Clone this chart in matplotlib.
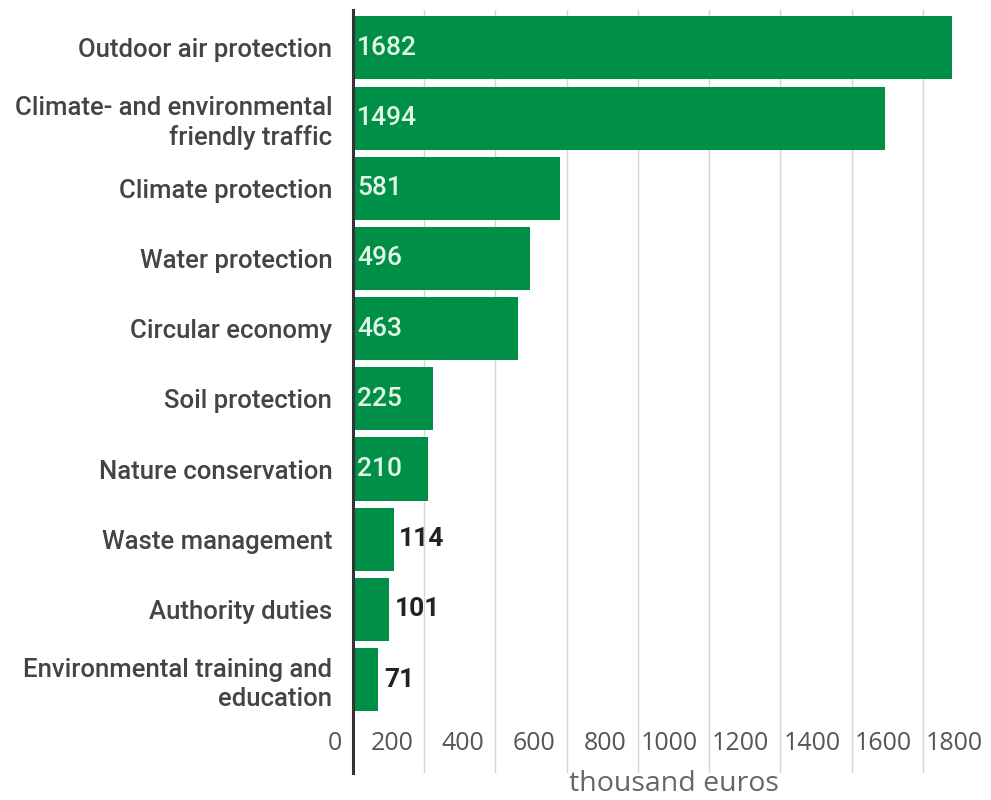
import matplotlib.pyplot as plt
import matplotlib.transforms as mtransforms

plt.rcParams['font.family'] = ['Roboto', 'DejaVu Sans']

categories = ['Outdoor air protection', 'Climate- and environmental\nfriendly traffic',
              'Climate protection', 'Water protection', 'Circular economy',
              'Soil protection', 'Nature conservation', 'Waste management',
              'Authority duties', 'Environmental training and\neducation']
values = [1682, 1494, 581, 496, 463, 225, 210, 114, 101, 71]
ticks = [0, 200, 400, 600, 800, 1000, 1200, 1400, 1600, 1800]

green = '#008f47'

fig = plt.figure(figsize=(9.91, 8), dpi=100)
ax = fig.add_axes([0.3562, 0.03375, 0.6468, 0.95375])

y = list(range(len(values)))
ax.barh(y, values, height=0.9, color=green, zorder=2)

ax.set_ylim(10.33, -0.54)
ax.set_xlim(0, 1800)
ax.set_yticks(y)
ax.set_yticklabels(categories, fontsize=18.5, color='#444444', fontweight='medium',
                   linespacing=1.27)
ax.set_xticks(ticks)
ax.set_xticklabels([str(t) for t in ticks], fontsize=18, color='#555555',
                   family=['Open Sans', 'DejaVu Sans'])
ax.tick_params(axis='y', length=0, pad=15)
ax.tick_params(axis='x', length=0, pad=-30)
off = mtransforms.ScaledTranslation(-0.11, 0, fig.dpi_scale_trans)
for lab in ax.get_xticklabels():
    lab.set_horizontalalignment('right')
    lab.set_transform(lab.get_transform() + off)

ax.grid(axis='x', color='#d4d4d4', linewidth=1, zorder=0)
ax.grid(axis='y', visible=False)
for s in ['top', 'right', 'bottom']:
    ax.spines[s].set_visible(False)
ax.spines['left'].set_color('#333333')
ax.spines['left'].set_linewidth(2.2)
ax.spines['left'].set_zorder(3)

for i, v in enumerate(values):
    if v > 150:
        ax.annotate(str(v), xy=(0, i), xytext=(3, 0), textcoords='offset points',
                    va='center', ha='left', color='#e2f6e6', fontsize=19,
                    fontweight='medium', zorder=4)
    else:
        ax.annotate(str(v), xy=(v, i), xytext=(4, 0), textcoords='offset points',
                    va='center', ha='left', color='#222222', fontsize=19,
                    fontweight='bold', zorder=4)

ax.set_xlabel('thousand euros', fontsize=20.5, color='#666666',
              family=['Open Sans', 'DejaVu Sans'])
ax.xaxis.set_label_coords(0.5, 0.004)

fig.savefig('out.png', dpi=100)
